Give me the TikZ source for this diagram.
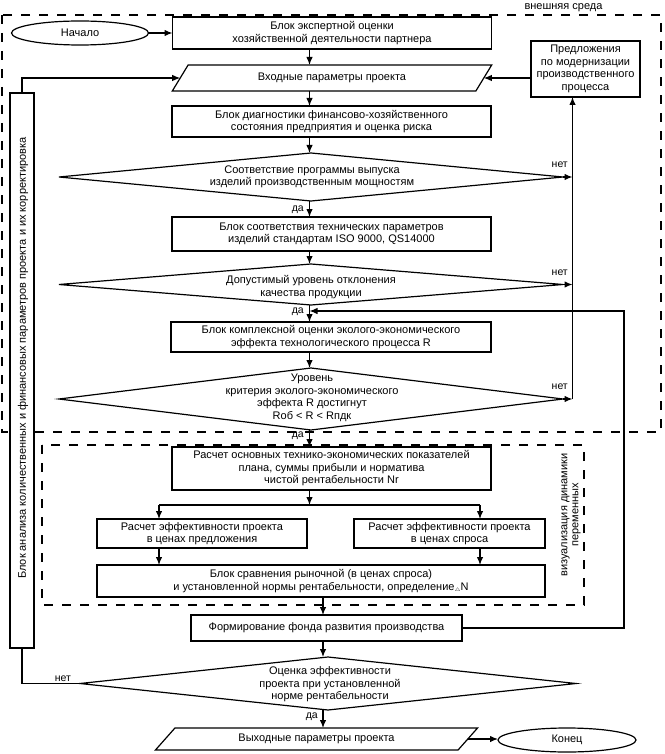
\documentclass[tikz,border=0pt]{standalone}
\usepackage{fontspec}
\setmainfont{Liberation Sans}
\usetikzlibrary{shapes.geometric,arrows.meta,calc}
\begin{document}
\begin{tikzpicture}[x=1pt,y=-1pt,
  every node/.style={font=\fontsize{11}{12.5}\selectfont},
  shp/.style={draw, line width=1.2pt, inner sep=0pt, outer sep=0pt, align=center, fill=white},
  box/.style={shp, rectangle},
  dec/.style={shp, diamond, aspect=8},
  para/.style={shp, trapezium, trapezium stretches=true},
  term/.style={shp, ellipse},
  lbl/.style={inner sep=0pt, font=\fontsize{10.5}{12}\selectfont},
  txt/.style={inner sep=0pt, align=center},
  arr/.style={line width=1.2pt, -{Latex[length=8pt,width=6.5pt]}},
  conn/.style={line width=1.2pt},
  frame/.style={line width=1.2pt, dash pattern=on 9pt off 9pt}
]
\useasboundingbox (0,0) rectangle (664,754);

% frames
\draw[frame] (2,15) rectangle (661,432);
\draw[frame] (42,445) rectangle (584,605);
\node[txt, anchor=base] (env) at (563.5,10) {внешняя среда};
\node[txt, rotate=90, font=\fontsize{11}{11}\selectfont] (vis) at (571,515) {визуализация динамики\\переменных};

% axis coordinates
\coordinate (ax1) at (309.5,0);
\coordinate (ax2) at (323,0);
\coordinate (rl) at (572.5,0);
\coordinate (lp) at (624,311);
\coordinate (spl) at (309.5,505);
\coordinate (spL) at (159,505);
\coordinate (spR) at (480,505);

% nodes
\node[term, minimum width=137pt, minimum height=24pt] (start) at (80,33) {Начало};
\node[box, minimum width=319pt, minimum height=32pt] (b1) at (332,33) {Блок экспертной оценки\\хозяйственной деятельности партнера};
\node[box, minimum width=109pt, minimum height=56pt] (pred) at (585.5,69) {Предложения\\по модернизации\\производственного\\процесса};
\node[para, trapezium left angle=50.4, trapezium right angle=129.6, minimum width=320pt, minimum height=26pt] (in) at (332,78) {Входные параметры проекта};
\node[box, minimum width=319pt, minimum height=31pt] (b2) at (331.5,121.5) {Блок диагностики финансово-хозяйственного\\состояния предприятия и оценка риска};
\node[dec, minimum width=504pt, minimum height=48pt] (d1) at (311,177) {};
\node[txt] (d1t) at (312,177) {Соответствие программы выпуска\\изделий производственным мощностям};
\node[box, minimum width=319pt, minimum height=34pt] (b3) at (331.5,234) {Блок соответствия технических параметров\\изделий стандартам ISO 9000, QS14000};
\node[dec, minimum width=504pt, minimum height=41pt] (d2) at (311,284.5) {};
\node[txt] (d2t) at (311,287) {Допустимый уровень отклонения\\качества продукции};
\node[box, minimum width=320pt, minimum height=30pt] (b4) at (331,337) {Блок комплексной оценки эколого-экономического\\эффекта технологического процесса R};
\node[dec, minimum width=504pt, minimum height=62pt] (d3) at (311,399) {};
\node[txt] (d3t) at (312,398) {Уровень\\критерия эколого-экономического\\эффекта R достигнут\\Rоб < R < Rпдк};
\node[box, minimum width=319pt, minimum height=43pt] (b5) at (331.5,468.5) {Расчет основных технико-экономических показателей\\плана, суммы прибыли и норматива\\чистой рентабельности Nr};
\node[box, minimum width=210pt, minimum height=29pt] (b6) at (202,533.5) {Расчет эффективности проекта\\в ценах предложения};
\node[box, minimum width=191pt, minimum height=29pt] (b7) at (449.5,533.5) {Расчет эффективности проекта\\в ценах спроса};
\node[box, minimum width=448pt, minimum height=32pt] (b8) at (321,581) {Блок сравнения рыночной (в ценах спроса)\\и установленной нормы рентабельности, определение\raisebox{-0.2ex}{\tiny$\triangle$}N};
\node[box, minimum width=271pt, minimum height=26pt] (fond) at (326.5,628) {Формирование фонда развития производства};
\node[dec, minimum width=496pt, minimum height=53pt] (d4) at (328,683.5) {};
\node[txt] (d4t) at (330,684.5) {Оценка эффективности\\проекта при установленной\\норме рентабельности};
\node[para, trapezium left angle=42.5, trapezium right angle=137.5, minimum width=323pt, minimum height=22pt] (out) at (316.5,739) {Выходные параметры проекта};
\node[term, minimum width=138pt, minimum height=24pt] (end) at (567,740) {Конец};
\node[box, minimum width=24pt, minimum height=555pt] (lbox) at (22,370.5) {};
\node[txt, rotate=90] (lboxt) at (23,358) {Блок анализа количественных и финансовых параметров проекта и их корректировка};

% labels
\node[lbl, anchor=east] (y1) at (304,210) {да};
\node[lbl, anchor=east] (y2) at (304,312) {да};
\node[lbl, anchor=east] (y3) at (304,436) {да};
\node[lbl, anchor=east] (y4) at (318,717) {да};
\node[lbl, anchor=east] (n1) at (568,165) {нет};
\node[lbl, anchor=east] (n2) at (568,273) {нет};
\node[lbl, anchor=east] (n3) at (568,387) {нет};
\node[lbl] (n4) at (63,679) {нет};

% connectors
\draw[arr] (start.east) -- (b1.west);
\draw[arr] (b1.south -| ax1) -- (in.north -| ax1);
\draw[arr] (in.south -| ax1) -- (b2.north -| ax1);
\draw[arr] (b2.south -| ax1) -- (d1.north -| ax1);
\draw[arr] (d1.south -| ax1) -- (b3.north -| ax1);
\draw[arr] (b3.south -| ax1) -- (d2.north -| ax1);
\draw[arr] (d2.south -| ax1) -- (b4.north -| ax1);
\draw[arr] (b4.south -| ax1) -- (d3.north -| ax1);
\draw[arr] (d3.south -| ax1) -- (b5.north -| ax1);
\draw[arr] (b5.south -| ax1) -- (spl);
\draw[conn] (spL) -- (spR);
\draw[arr] (spL) -- (b6.north -| spL);
\draw[arr] (spR) -- (b7.north -| spR);
\draw[arr] (b6.south -| spL) -- (b8.north -| spL);
\draw[arr] (b7.south -| spR) -- (b8.north -| spR);
\draw[arr] (b8.south -| ax2) -- (fond.north -| ax2);
\draw[arr] (fond.south -| ax2) -- (d4.north -| ax2);
\draw[arr] (d4.south -| ax2) -- (out.north -| ax2);
\draw[arr] (out.east) -- (end.west |- out.east);
\draw[arr] (d1.east) -- (d1.east -| rl);
\draw[arr] (d2.east) -- (d2.east -| rl);
\draw[arr] (d3.east) -- (d3.east -| rl);
\draw[arr] (d3.east -| rl) -- (pred.south -| rl);
\draw[arr] (pred.west |- in.east) -- (in.east);
\draw[arr] (lbox.north) |- (in.west);
\draw[conn] (d4.west) -| (lbox.south);
\draw[arr] (fond.east) -| (lp) -- (lp -| ax1);
\end{tikzpicture}
\end{document}
